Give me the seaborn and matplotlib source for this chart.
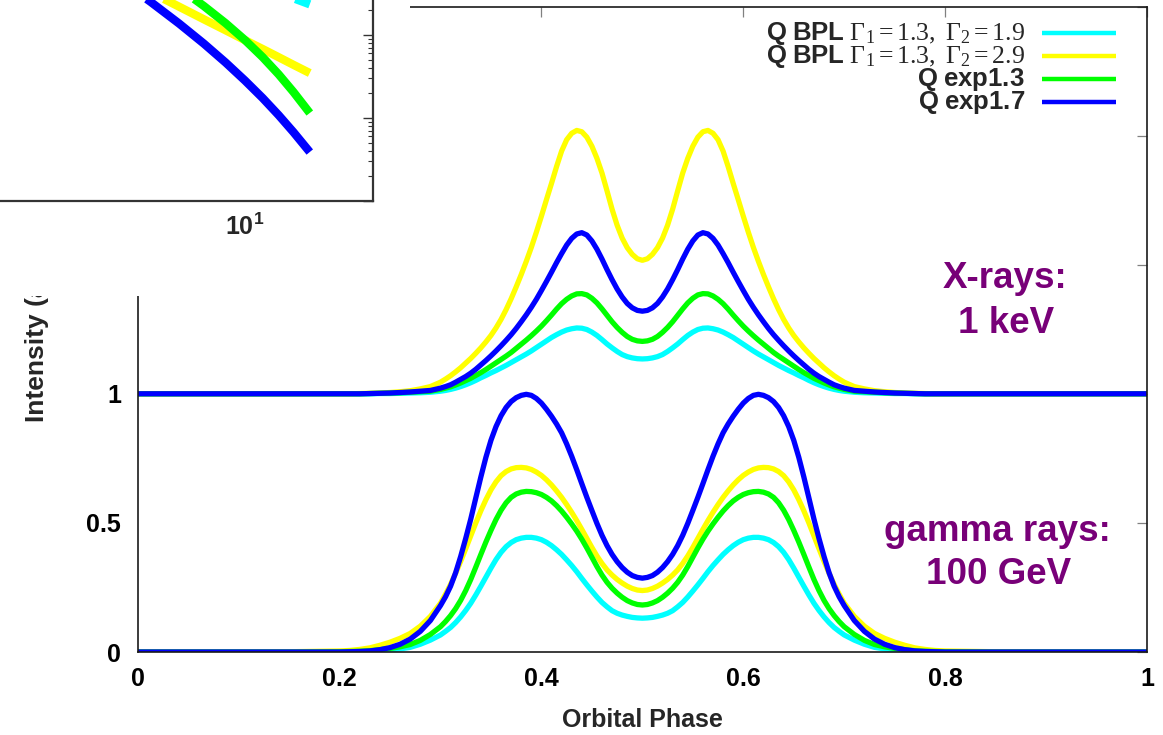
import numpy as np
import pandas as pd
import matplotlib
matplotlib.use("Agg")
import matplotlib.pyplot as plt
import seaborn as sns
from matplotlib.patches import Rectangle
from matplotlib.ticker import FuncFormatter, LogLocator, NullFormatter

sns.set_theme(style="white")
plt.rcParams["font.family"] = ["Liberation Sans", "DejaVu Sans"]
plt.rcParams["font.weight"] = "bold"
plt.rcParams["mathtext.fontset"] = "custom"
plt.rcParams["mathtext.rm"] = "Liberation Serif:weight=normal"
plt.rcParams["mathtext.it"] = "Liberation Serif:style=italic:weight=normal"
plt.rcParams["mathtext.bf"] = "Liberation Sans:weight=bold"

# ---------------------------------------------------------------- data
MODELS = [
    r"$\mathbf{Q\ BPL}\ \mathrm{\Gamma_1 = 1.3,\ \Gamma_2 = 1.9}$",
    r"$\mathbf{Q\ BPL}\ \mathrm{\Gamma_1 = 1.3,\ \Gamma_2 = 2.9}$",
    r"$\mathbf{Q\ exp1.3}$",
    r"$\mathbf{Q\ exp1.7}$",
]
COLORS = ["#00ffff", "#ffff00", "#00ff00", "#0000ff"]

# orbital phase sampling (finer across the peaks)
PHASE = ([0.00, 0.10, 0.15]
         + [round(0.20 + 0.01 * i, 3) for i in range(10)]
         + [round(0.300 + 0.005 * i, 3) for i in range(81)]
         + [round(0.71 + 0.01 * i, 3) for i in range(10)]
         + [0.85, 0.90, 1.00])

# X-ray light curves (1 keV), offset by +1
XRAY_BPL19 = [
    1.000, 1.000, 1.000, 1.000, 1.000, 1.000, 1.000, 1.001, 1.001, 1.002, 1.003, 1.004, 1.006,
    1.010, 1.013, 1.017, 1.022, 1.028, 1.035, 1.043, 1.052, 1.062, 1.071, 1.081, 1.090, 1.100,
    1.110, 1.121, 1.132, 1.143, 1.154, 1.166, 1.179, 1.192, 1.205, 1.218, 1.229, 1.239, 1.247,
    1.252, 1.255, 1.254, 1.249, 1.239, 1.226, 1.210, 1.193, 1.178, 1.164, 1.152, 1.144, 1.139,
    1.136, 1.135,
    1.136, 1.139, 1.144, 1.152, 1.164, 1.178, 1.193, 1.210, 1.226, 1.239, 1.249, 1.254, 1.255,
    1.252, 1.247, 1.239, 1.229, 1.218, 1.205, 1.192, 1.179, 1.166, 1.154, 1.143, 1.132, 1.121,
    1.110, 1.100, 1.090, 1.081, 1.071, 1.062, 1.052, 1.043, 1.035, 1.028, 1.022, 1.017, 1.013,
    1.010,
    1.006, 1.004, 1.003, 1.002, 1.001, 1.001, 1.000, 1.000, 1.000, 1.000, 1.000, 1.000, 1.000]
XRAY_BPL29 = [
    1.000, 1.000, 1.000, 1.000, 1.000, 1.001, 1.002, 1.003, 1.005, 1.008, 1.012, 1.019, 1.028,
    1.045, 1.057, 1.070, 1.085, 1.101, 1.119, 1.137, 1.157, 1.178, 1.201, 1.226, 1.255, 1.288,
    1.326, 1.368, 1.414, 1.462, 1.513, 1.567, 1.626, 1.688, 1.752, 1.815, 1.880, 1.940, 1.984,
    2.009, 2.020, 2.015, 1.994, 1.959, 1.912, 1.855, 1.786, 1.715, 1.653, 1.603, 1.566, 1.540,
    1.523, 1.517,
    1.523, 1.540, 1.566, 1.603, 1.653, 1.715, 1.786, 1.855, 1.912, 1.959, 1.994, 2.015, 2.020,
    2.009, 1.984, 1.940, 1.880, 1.815, 1.752, 1.688, 1.626, 1.567, 1.513, 1.462, 1.414, 1.368,
    1.326, 1.288, 1.255, 1.226, 1.201, 1.178, 1.157, 1.137, 1.119, 1.101, 1.085, 1.070, 1.057,
    1.045,
    1.028, 1.019, 1.012, 1.008, 1.005, 1.003, 1.002, 1.001, 1.000, 1.000, 1.000, 1.000, 1.000]
XRAY_EXP13 = [
    1.000, 1.000, 1.000, 1.000, 1.000, 1.000, 1.001, 1.002, 1.003, 1.004, 1.006, 1.008, 1.010,
    1.017, 1.022, 1.027, 1.034, 1.042, 1.051, 1.060, 1.071, 1.082, 1.094, 1.107, 1.120, 1.133,
    1.146, 1.160, 1.176, 1.192, 1.208, 1.225, 1.243, 1.262, 1.283, 1.305, 1.328, 1.349, 1.366,
    1.379, 1.387, 1.388, 1.383, 1.370, 1.352, 1.329, 1.304, 1.279, 1.257, 1.238, 1.222, 1.211,
    1.205, 1.203,
    1.205, 1.211, 1.222, 1.238, 1.257, 1.279, 1.304, 1.329, 1.352, 1.370, 1.383, 1.388, 1.387,
    1.379, 1.366, 1.349, 1.328, 1.305, 1.283, 1.262, 1.243, 1.225, 1.208, 1.192, 1.176, 1.160,
    1.146, 1.133, 1.120, 1.107, 1.094, 1.082, 1.071, 1.060, 1.051, 1.042, 1.034, 1.027, 1.022,
    1.017,
    1.010, 1.008, 1.006, 1.004, 1.003, 1.002, 1.001, 1.000, 1.000, 1.000, 1.000, 1.000, 1.000]
XRAY_EXP17 = [
    1.000, 1.000, 1.000, 1.000, 1.000, 1.000, 1.001, 1.002, 1.003, 1.005, 1.007, 1.010, 1.013,
    1.022, 1.028, 1.035, 1.045, 1.056, 1.067, 1.080, 1.095, 1.112, 1.129, 1.147, 1.166, 1.186,
    1.207, 1.229, 1.253, 1.279, 1.306, 1.335, 1.366, 1.400, 1.435, 1.471, 1.508, 1.543, 1.576,
    1.602, 1.619, 1.624, 1.615, 1.592, 1.560, 1.522, 1.481, 1.442, 1.406, 1.375, 1.350, 1.333,
    1.323, 1.320,
    1.323, 1.333, 1.350, 1.375, 1.406, 1.442, 1.481, 1.522, 1.560, 1.592, 1.615, 1.624, 1.619,
    1.602, 1.576, 1.543, 1.508, 1.471, 1.435, 1.400, 1.366, 1.335, 1.306, 1.279, 1.253, 1.229,
    1.207, 1.186, 1.166, 1.147, 1.129, 1.112, 1.095, 1.080, 1.067, 1.056, 1.045, 1.035, 1.028,
    1.022,
    1.013, 1.010, 1.007, 1.005, 1.003, 1.002, 1.001, 1.000, 1.000, 1.000, 1.000, 1.000, 1.000]

# gamma-ray light curves (100 GeV)
GAMMA_BPL19 = [
    0.000, 0.000, 0.000, 0.000, 0.001, 0.001, 0.002, 0.005, 0.008, 0.012, 0.018, 0.030, 0.046,
    0.066, 0.080, 0.095, 0.114, 0.136, 0.161, 0.189, 0.221, 0.255, 0.290, 0.325, 0.358, 0.386,
    0.408, 0.424, 0.435, 0.441, 0.444, 0.444, 0.441, 0.435, 0.425, 0.412, 0.396, 0.378, 0.357,
    0.335, 0.311, 0.285, 0.260, 0.236, 0.213, 0.192, 0.175, 0.160, 0.150, 0.143, 0.138, 0.134,
    0.132, 0.131,
    0.132, 0.134, 0.138, 0.143, 0.150, 0.160, 0.175, 0.192, 0.213, 0.236, 0.260, 0.285, 0.311,
    0.335, 0.357, 0.378, 0.396, 0.412, 0.425, 0.435, 0.441, 0.444, 0.444, 0.441, 0.435, 0.424,
    0.408, 0.386, 0.358, 0.325, 0.290, 0.255, 0.221, 0.189, 0.161, 0.136, 0.114, 0.095, 0.080,
    0.066,
    0.046, 0.030, 0.018, 0.012, 0.008, 0.005, 0.002, 0.001, 0.001, 0.000, 0.000, 0.000, 0.000]
GAMMA_BPL29 = [
    0.000, 0.000, 0.001, 0.004, 0.006, 0.010, 0.016, 0.026, 0.038, 0.053, 0.072, 0.100, 0.138,
    0.189, 0.224, 0.262, 0.305, 0.351, 0.400, 0.450, 0.500, 0.547, 0.590, 0.628, 0.659, 0.683,
    0.699, 0.709, 0.714, 0.715, 0.713, 0.707, 0.697, 0.684, 0.667, 0.647, 0.624, 0.599, 0.571,
    0.541, 0.509, 0.475, 0.440, 0.405, 0.372, 0.343, 0.318, 0.298, 0.281, 0.267, 0.255, 0.246,
    0.240, 0.238,
    0.240, 0.246, 0.255, 0.267, 0.281, 0.298, 0.318, 0.343, 0.372, 0.405, 0.440, 0.475, 0.509,
    0.541, 0.571, 0.599, 0.624, 0.647, 0.667, 0.684, 0.697, 0.707, 0.713, 0.715, 0.714, 0.709,
    0.699, 0.683, 0.659, 0.628, 0.590, 0.547, 0.500, 0.450, 0.400, 0.351, 0.305, 0.262, 0.224,
    0.189,
    0.138, 0.100, 0.072, 0.053, 0.038, 0.026, 0.016, 0.010, 0.006, 0.004, 0.001, 0.000, 0.000]
GAMMA_EXP13 = [
    0.000, 0.000, 0.000, 0.001, 0.002, 0.003, 0.005, 0.009, 0.014, 0.020, 0.029, 0.045, 0.068,
    0.098, 0.118, 0.141, 0.168, 0.200, 0.238, 0.281, 0.329, 0.378, 0.426, 0.471, 0.513, 0.549,
    0.578, 0.599, 0.612, 0.619, 0.622, 0.621, 0.617, 0.610, 0.599, 0.585, 0.567, 0.546, 0.522,
    0.496, 0.468, 0.437, 0.403, 0.367, 0.331, 0.298, 0.270, 0.247, 0.228, 0.212, 0.199, 0.190,
    0.184, 0.182,
    0.184, 0.190, 0.199, 0.212, 0.228, 0.247, 0.270, 0.298, 0.331, 0.367, 0.403, 0.437, 0.468,
    0.496, 0.522, 0.546, 0.567, 0.585, 0.599, 0.610, 0.617, 0.621, 0.622, 0.619, 0.612, 0.599,
    0.578, 0.549, 0.513, 0.471, 0.426, 0.378, 0.329, 0.281, 0.238, 0.200, 0.168, 0.141, 0.118,
    0.098,
    0.068, 0.045, 0.029, 0.020, 0.014, 0.009, 0.005, 0.003, 0.002, 0.001, 0.000, 0.000, 0.000]
GAMMA_EXP17 = [
    0.000, 0.000, 0.000, 0.000, 0.001, 0.002, 0.004, 0.009, 0.017, 0.030, 0.050, 0.080, 0.122,
    0.180, 0.214, 0.255, 0.307, 0.370, 0.440, 0.515, 0.597, 0.678, 0.754, 0.820, 0.873, 0.915,
    0.947, 0.970, 0.985, 0.994, 0.998, 0.994, 0.982, 0.964, 0.940, 0.913, 0.883, 0.849, 0.806,
    0.758, 0.706, 0.652, 0.599, 0.548, 0.498, 0.452, 0.412, 0.378, 0.350, 0.327, 0.309, 0.296,
    0.289, 0.286,
    0.289, 0.296, 0.309, 0.327, 0.350, 0.378, 0.412, 0.452, 0.498, 0.548, 0.599, 0.652, 0.706,
    0.758, 0.806, 0.849, 0.883, 0.913, 0.940, 0.964, 0.982, 0.994, 0.998, 0.994, 0.985, 0.970,
    0.947, 0.915, 0.873, 0.820, 0.754, 0.678, 0.597, 0.515, 0.440, 0.370, 0.307, 0.255, 0.214,
    0.180,
    0.122, 0.080, 0.050, 0.030, 0.017, 0.009, 0.004, 0.002, 0.001, 0.000, 0.000, 0.000, 0.000]

# injection spectra shown in the inset (log-log)
ENERGY = [4, 5, 6, 7, 8, 9, 10, 11, 12, 13, 14.2]
Q_BPL19 = [2.58, 1.69, 1.20, 0.895, 0.695, 0.556, 0.455, 0.380, 0.322, 0.277, 0.234]
Q_BPL29 = [0.938, 0.525, 0.327, 0.219, 0.1545, 0.114, 0.0865, 0.0678, 0.0540, 0.0437, 0.0348]
Q_EXP13 = [2.195, 1.123, 0.627, 0.368, 0.2234, 0.1387, 0.0867, 0.0541, 0.0335, 0.02056, 0.01148]
Q_EXP17 = [1.072, 0.490, 0.250, 0.137, 0.0787, 0.0466, 0.0282, 0.0174, 0.0108, 0.00675, 0.00389]

XTICKS = [0, 0.2, 0.4, 0.6, 0.8, 1]
YTICKS = [0, 0.5, 1, 1.5, 2, 2.5]
PURPLE = "#780078"

# ---------------------------------------------------------------- frames
curves = pd.concat(
    [pd.DataFrame({"phase": PHASE, "intensity": vals, "model": m, "band": band})
     for band, series in (("xray", [XRAY_BPL19, XRAY_BPL29, XRAY_EXP13, XRAY_EXP17]),
                          ("gamma", [GAMMA_BPL19, GAMMA_BPL29, GAMMA_EXP13, GAMMA_EXP17]))
     for m, vals in zip(MODELS, series)],
    ignore_index=True)
spectra = pd.concat(
    [pd.DataFrame({"energy": ENERGY, "q": vals, "model": m})
     for m, vals in zip(MODELS, [Q_BPL19, Q_BPL29, Q_EXP13, Q_EXP17])],
    ignore_index=True)

# ---------------------------------------------------------------- figure
W, H = 1163, 735
fig = plt.figure(figsize=(W / 100, H / 100), dpi=100)
fig.patch.set_facecolor("white")

AX_L, AX_R, AX_T, AX_B = 137.7, 1147.0, 6.5, 652.0
ax = fig.add_axes([AX_L / W, 1 - AX_B / H, (AX_R - AX_L) / W, (AX_B - AX_T) / H])
ax.set_zorder(0)
for band in ("xray", "gamma"):
    sns.lineplot(data=curves[curves["band"] == band], x="phase", y="intensity",
                 hue="model", hue_order=MODELS, palette=COLORS, linewidth=3.8,
                 estimator=None, sort=False, legend=False, ax=ax)
for ln in ax.lines:
    ln.set_solid_capstyle("butt")
    ln.set_solid_joinstyle("round")

ax.set_xlim(0, 1)
ax.set_ylim(0, 2.5)
ax.set_xticks(XTICKS)
ax.set_xticklabels([f"{v:g}" for v in XTICKS])
ax.set_yticks(YTICKS)
# labels above 1 sit under the inset panel
ax.set_yticklabels([f"{v:g}" if v <= 1 else "" for v in YTICKS])
ax.tick_params(direction="in", length=7.5, width=0.9, color="#808080",
               top=True, right=True, labelsize=18, labelcolor="black")
ax.tick_params(axis="x", pad=11)
ax.tick_params(axis="y", pad=12)
for sp in ax.spines.values():
    sp.set_color("#1a1a1a")
    sp.set_linewidth(1.2)
ax.set_facecolor("white")
ax.grid(False)

ax.set_xlabel("Orbital Phase", fontsize=18, fontweight="bold", labelpad=12)
ax.set_ylabel("Intensity (a.u.)", fontsize=19, fontweight="bold", loc="bottom")
ax.yaxis.set_label_coords((49 - AX_L) / (AX_R - AX_L), (AX_B - 422) / (AX_B - AX_T))

leg = ax.legend(ax.lines[:4], MODELS, loc="upper right", frameon=False,
                markerfirst=False, fontsize=18.5, handlelength=2.88,
                handletextpad=0.66, labelspacing=-0.15, borderaxespad=0.0,
                borderpad=0.2, handleheight=0.2,
                bbox_to_anchor=((1121 - AX_L) / (AX_R - AX_L), 1 - 8 / (AX_B - AX_T)))
for h in leg.legend_handles:
    h.set_linewidth(3.2)

for txt, x, y in (("X-rays:", 0.859, 288), ("1 keV", 0.860, 333),
                  ("gamma rays:", 0.852, 541), ("100 GeV", 0.853, 584)):
    ax.text(x, (AX_B - y) / 258, txt, ha="center", va="baseline", color=PURPLE,
            fontsize=26.5, fontweight="bold")

# white panel carrying the inset
fig.add_artist(Rectangle((0, 1 - 296 / H), 410 / W, 296 / H, transform=fig.transFigure,
                         facecolor="white", edgecolor="none", zorder=1))

ax_in = fig.add_axes([-180 / W, 1 - 201 / H, 553 / W, 332 / H])
ax_in.set_zorder(2)
ax_in.set_xscale("log")
ax_in.set_yscale("log")
sns.lineplot(data=spectra, x="energy", y="q", hue="model", hue_order=MODELS,
             palette=COLORS, linewidth=6.0, estimator=None, sort=False,
             legend=False, ax=ax_in)
for ln in ax_in.lines:
    ln.set_solid_capstyle("butt")
    ln.set_solid_joinstyle("round")
ax_in.set_xlim(1, 20)
ax_in.set_ylim(1e-3, 1e1)
ax_in.set_xlabel("")
ax_in.set_ylabel("")
ax_in.set_facecolor("white")
ax_in.grid(False)
for a in (ax_in.xaxis, ax_in.yaxis):
    a.set_major_locator(LogLocator(base=10))
    a.set_minor_locator(LogLocator(base=10, subs=np.arange(2, 10)))
    a.set_minor_formatter(NullFormatter())
ax_in.xaxis.set_major_formatter(
    FuncFormatter(lambda v, p: r"$\mathbf{10^{%d}}$" % int(round(np.log10(v)))
                  if v > 5 else ""))
ax_in.yaxis.set_major_formatter(NullFormatter())
ax_in.tick_params(which="both", direction="in", top=True, right=True,
                  color="#333333", labelsize=18)
ax_in.tick_params(which="major", length=7, width=1.0, pad=9)
ax_in.tick_params(which="minor", length=3.5, width=0.8)
for sp in ax_in.spines.values():
    sp.set_color("#333333")
    sp.set_linewidth(1.6)

fig.savefig("out.png", dpi=100, facecolor="white")
